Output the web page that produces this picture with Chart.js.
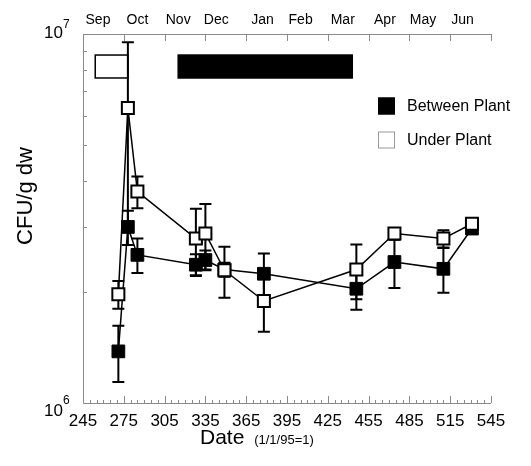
<!DOCTYPE html>
<html>
<head>
<meta charset="utf-8">
<script src="https://cdn.jsdelivr.net/npm/chart.js@4"></script>
<style>
  html, body { margin: 0; padding: 0; background: #fff; }
</style>
</head>
<body>
<canvas id="chart" width="531" height="466"></canvas>
<script>
// sampling days (1/1/95 = 1)
const days = [271, 278, 285, 328, 335, 349, 378, 446, 474, 510, 531];
const betweenPlant = [1.38e6, 3.0e6, 2.52e6, 2.37e6, 2.44e6, 2.30e6, 2.24e6, 2.04e6, 2.41e6, 2.31e6, 2.97e6];
const betweenErr   = [0.24e6, 0.32e6, 0.27e6, 0.16e6, 0.15e6, 0.10e6, 0.30e6, 0.25e6, 0.36e6, 0.32e6, 0.10e6];
const underPlant   = [1.97e6, 6.3e6, 3.74e6, 2.79e6, 2.88e6, 2.29e6, 1.89e6, 2.30e6, 2.88e6, 2.79e6, 3.06e6];
const underErr     = [0.17e6, 3.2e6, 0.37e6, 0.57e6, 0.58e6, 0.36e6, 0.33e6, 0.39e6, 0.10e6, 0.15e6, 0.08e6];

const xTicks = [245, 275, 305, 335, 365, 395, 425, 455, 485, 515, 545];
const months = ['Sep', 'Oct', 'Nov', 'Dec', 'Jan', 'Feb', 'Mar', 'Apr', 'May', 'Jun'];
const monthPos = [256, 285, 315, 343, 377, 405, 436, 467, 495, 524];

// season bars at the top of the plot
const periodStart = [254, 315];
const periodEnd = [278, 443];
const periodFill = ['#ffffff', '#000000'];

const FONT = "'Liberation Sans', Arial, sans-serif";

const framePlugin = {
  id: 'frame',
  beforeDatasetsDraw(chart) {
    const { ctx, chartArea: a, scales } = chart;
    const x = scales.x, y = scales.y;
    ctx.save();
    ctx.strokeStyle = '#8a8a8a';
    ctx.lineWidth = 1;
    ctx.beginPath();
    ctx.moveTo(a.left + 0.5, a.top + 0.5);
    ctx.lineTo(a.right, a.top + 0.5);
    ctx.moveTo(a.left + 0.5, a.top);
    ctx.lineTo(a.left + 0.5, a.bottom + 0.5);
    ctx.lineTo(a.right, a.bottom + 0.5);
    // bottom minor / major ticks
    for (let v = 245; v <= 545; v += 5) {
      const px = Math.round(x.getPixelForValue(v)) + 0.5;
      const len = (v - 245) % 30 === 0 ? 7 : 3;
      ctx.moveTo(px, a.bottom);
      ctx.lineTo(px, a.bottom - len);
    }
    // top major ticks
    xTicks.forEach(v => {
      const px = Math.round(x.getPixelForValue(v)) + 0.5;
      ctx.moveTo(px, a.top);
      ctx.lineTo(px, a.top + 7);
    });
    // left minor ticks
    for (let k = 2; k <= 9; k++) {
      const py = Math.round(y.getPixelForValue(k * 1e6)) + 0.5;
      ctx.moveTo(a.left, py);
      ctx.lineTo(a.left + 4, py);
    }
    ctx.stroke();

    // season bars
    const yTop = y.getPixelForValue(8.77e6), yBot = y.getPixelForValue(7.6e6);
    periodStart.forEach((s, i) => {
      const x0 = x.getPixelForValue(s), x1 = x.getPixelForValue(periodEnd[i]);
      ctx.fillStyle = periodFill[i];
      ctx.fillRect(x0, yTop, x1 - x0, yBot - yTop);
      ctx.strokeStyle = '#000';
      ctx.lineWidth = 1.5;
      ctx.strokeRect(x0, yTop, x1 - x0, yBot - yTop);
    });

    // error bars
    ctx.strokeStyle = '#000';
    ctx.lineWidth = 2;
    const series = [[betweenPlant, betweenErr], [underPlant, underErr]];
    series.forEach(([vals, errs]) => {
      vals.forEach((v, j) => {
        const px = x.getPixelForValue(days[j]);
        const p1 = y.getPixelForValue(v + errs[j]);
        const p2 = y.getPixelForValue(Math.max(v - errs[j], 1e6));
        ctx.beginPath();
        ctx.moveTo(px, p1); ctx.lineTo(px, p2);
        ctx.moveTo(px - 6, p1); ctx.lineTo(px + 6, p1);
        ctx.moveTo(px - 6, p2); ctx.lineTo(px + 6, p2);
        ctx.stroke();
      });
    });
    ctx.restore();
  },
  afterDraw(chart) {
    const { ctx } = chart;
    ctx.save();
    ctx.fillStyle = '#000';
    ctx.textBaseline = 'alphabetic';

    // y axis decade labels
    ctx.textAlign = 'left';
    [[38, 28, '7'], [416, 404, '6']].forEach(([b, sb, e]) => {
      ctx.font = `17px ${FONT}`;
      ctx.fillText('10', 44, b);
      ctx.font = `12px ${FONT}`;
      ctx.fillText(e, 63, sb);
    });

    // y title
    ctx.save();
    ctx.translate(32, 196);
    ctx.rotate(-Math.PI / 2);
    ctx.textAlign = 'center';
    ctx.font = `22px ${FONT}`;
    ctx.fillText('CFU/g dw', 0, 0);
    ctx.restore();

    // x title
    ctx.textAlign = 'left';
    ctx.font = `21px ${FONT}`;
    ctx.fillText('Date', 200, 444);
    const w = ctx.measureText('Date ').width;
    ctx.font = `13px ${FONT}`;
    ctx.fillText('(1/1/95=1)', 200 + w + 4, 444);

    // legend
    const items = chart.data.datasets.slice().sort((a, b) => a.legendOrder - b.legendOrder);
    items.forEach((ds, i) => {
      const yc = 106 + i * 34;
      ctx.fillStyle = ds.pointBackgroundColor;
      ctx.fillRect(378, yc - 8.5, 17, 17);
      ctx.strokeStyle = ds.legendBorder;
      ctx.lineWidth = 1;
      ctx.strokeRect(378.5, yc - 8, 16, 16);
      ctx.fillStyle = '#000';
      ctx.font = `16px ${FONT}`;
      ctx.textBaseline = 'middle';
      ctx.fillText(ds.label, 407, yc + 1);
    });
    ctx.restore();
  }
};

new Chart(document.getElementById('chart'), {
  type: 'scatter',
  data: {
    datasets: [
      {
        label: 'Under Plant',
        legendOrder: 1,
        legendBorder: '#9a9a9a',
        data: days.map((d, i) => ({ x: d, y: underPlant[i] })),
        showLine: true,
        borderColor: '#000',
        borderWidth: 1.5,
        pointStyle: 'rect',
        pointRadius: 8.5,
        pointBorderWidth: 2,
        pointBackgroundColor: '#ffffff',
        pointBorderColor: '#000'
      },
      {
        label: 'Between Plant',
        legendOrder: 0,
        legendBorder: '#000',
        data: days.map((d, i) => ({ x: d, y: betweenPlant[i] })),
        showLine: true,
        borderColor: '#000',
        borderWidth: 1.5,
        pointStyle: 'rect',
        pointRadius: 9,
        pointBorderWidth: 1,
        pointBackgroundColor: '#000000',
        pointBorderColor: '#000'
      }
    ]
  },
  options: {
    responsive: false,
    devicePixelRatio: 1,
    animation: false,
    clip: false,
    layout: { padding: { left: 0, right: 40, top: 0, bottom: 0 } },
    plugins: { legend: { display: false }, tooltip: { enabled: false } },
    scales: {
      x: {
        type: 'linear',
        position: 'bottom',
        min: 245,
        max: 545,
        afterBuildTicks: s => { s.ticks = xTicks.map(v => ({ value: v })); },
        afterFit: s => { s.height = 63; },
        ticks: { color: '#000', font: { size: 17, family: FONT }, padding: 8, autoSkip: false, maxRotation: 0 },
        grid: { display: false, drawTicks: false },
        border: { display: false }
      },
      xTop: {
        type: 'linear',
        position: 'top',
        min: 245,
        max: 545,
        afterBuildTicks: s => { s.ticks = monthPos.map(v => ({ value: v })); },
        afterFit: s => { s.height = 34; },
        ticks: {
          color: '#000',
          font: { size: 14, family: FONT },
          padding: 5,
          autoSkip: false,
          maxRotation: 0,
          callback: (v, i) => months[i]
        },
        grid: { display: false, drawTicks: false },
        border: { display: false }
      },
      y: {
        type: 'logarithmic',
        min: 1e6,
        max: 1e7,
        afterFit: s => { s.width = 83; },
        ticks: { display: false },
        grid: { display: false, drawTicks: false },
        border: { display: false }
      }
    }
  },
  plugins: [framePlugin]
});
</script>
</body>
</html>
